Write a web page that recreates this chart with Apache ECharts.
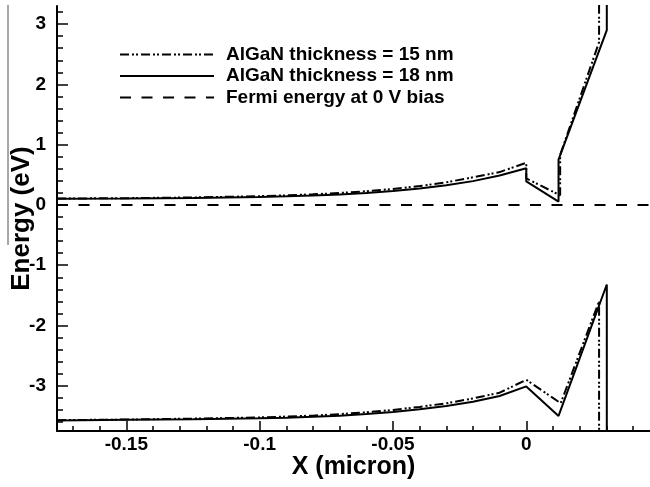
<!DOCTYPE html>
<html>
<head>
<meta charset="utf-8">
<script src="https://cdn.jsdelivr.net/npm/echarts@6/dist/echarts.min.js"></script>
<style>
html,body{margin:0;padding:0;background:#fff;}
#c{width:650px;height:487px;}
</style>
</head>
<body>
<div id="c"></div>
<script>
// ---- data ----
const xGaN = [-0.176, -0.15, -0.125, -0.1, -0.09, -0.08, -0.07, -0.06, -0.05, -0.04, -0.03, -0.02, -0.01, 0];

// AlGaN 18 nm (solid)
const x18CB = xGaN.concat([0, 0.0121, 0.0121, 0.0302, 0.0302]);
const e18CB = [0.104, 0.108, 0.117, 0.133, 0.144, 0.157, 0.175, 0.199, 0.230, 0.271, 0.325, 0.395, 0.488, 0.61,
               0.39, 0.055, 0.75, 2.90, 3.60];
const x18VB = xGaN.concat([0.0121, 0.0302, 0.0302]);
const e18VB = [-3.575, -3.565, -3.555, -3.54, -3.53, -3.515, -3.495, -3.47, -3.435, -3.39, -3.335, -3.265, -3.17, -3.01,
               -3.50, -1.32, -3.75];

// AlGaN 15 nm (dash-dot-dot)
const x15CB = xGaN.concat([0, 0.0127, 0.0127, 0.0273, 0.0273]);
const e15CB = [0.106, 0.112, 0.124, 0.145, 0.159, 0.176, 0.198, 0.227, 0.265, 0.313, 0.376, 0.458, 0.545, 0.70,
               0.44, 0.16, 0.83, 2.70, 3.60];
const x15VB = xGaN.concat([0.0129, 0.0273, 0.0273]);
const e15VB = [-3.57, -3.56, -3.545, -3.525, -3.51, -3.495, -3.47, -3.44, -3.40, -3.35, -3.29, -3.21, -3.115, -2.90,
               -3.29, -1.60, -3.75];

// Fermi level
const xFermi = [-0.176, 0.0464];
const eFermi = [0, 0];

const legendNames = ['AlGaN thickness = 15 nm', 'AlGaN thickness = 18 nm', 'Fermi energy at 0 V bias'];
const xMajor = [-0.15, -0.1, -0.05, 0];
const xMinor = [-0.17, -0.16, -0.14, -0.13, -0.12, -0.11, -0.09, -0.08, -0.07, -0.06, -0.04, -0.03, -0.02, -0.01, 0.01, 0.02, 0.03, 0.04];
const yMajor = [-3, -2, -1, 0, 1, 2, 3];
const yMinor = [-3.6, -3.4, -3.2, -2.8, -2.6, -2.4, -2.2, -1.8, -1.6, -1.4, -1.2, -0.8, -0.6, -0.4, -0.2,
                0.2, 0.4, 0.6, 0.8, 1.2, 1.4, 1.6, 1.8, 2.2, 2.4, 2.6, 2.8, 3.2];

const X_MIN = -0.176, X_MAX = 0.0464, Y_MIN = -3.75, Y_MAX = 3.30;

function pairs(xs, ys) { return xs.map((x, i) => [x, ys[i]]); }

const FONT = 'Liberation Sans, Arial, Helvetica, sans-serif';
const dashDot = [9, 3, 2, 2, 2, 3];

const chart = echarts.init(document.getElementById('c'), null, {renderer: 'canvas'});
chart.setOption({
  animation: false,
  backgroundColor: '#fff',
  grid: {left: 57, right: 0, top: 6, bottom: 56, containLabel: false, outerBoundsMode: 'none'},
  legend: {
    data: legendNames,
    orient: 'vertical',
    left: 119, top: 45,
    padding: 0,
    itemWidth: 94, itemHeight: 14,
    itemGap: 2.5,
    itemStyle: {opacity: 0},
    textStyle: {fontFamily: FONT, fontWeight: 'bold', fontSize: 19, color: '#000', lineHeight: 19, padding: [0, 0, 0, 7]}
  },
  xAxis: [{
    type: 'value', min: X_MIN, max: X_MAX, position: 'bottom',
    axisLine: {show: true, onZero: false, lineStyle: {color: '#000', width: 2}},
    axisTick: {show: true, inside: true, length: 10, customValues: xMajor, lineStyle: {color: '#000', width: 1.5}},
    axisLabel: {show: true, customValues: xMajor, margin: 4, fontFamily: FONT, fontWeight: 'bold', fontSize: 19, color: '#000',
      formatter: v => String(Math.round(v * 100) / 100)},
    splitLine: {show: false},
    name: 'X (micron)', nameLocation: 'middle', nameGap: 24, nameMoveOverlap: false,
    nameTextStyle: {fontFamily: FONT, fontWeight: 'bold', fontSize: 25, color: '#000'}
  }, {
    type: 'value', min: X_MIN, max: X_MAX, position: 'bottom',
    axisLine: {show: false, onZero: false},
    axisTick: {show: true, inside: true, length: 5, customValues: xMinor, lineStyle: {color: '#000', width: 1.5}},
    axisLabel: {show: false},
    splitLine: {show: false}
  }],
  yAxis: [{
    type: 'value', min: Y_MIN, max: Y_MAX, position: 'left',
    axisLine: {show: true, onZero: false, lineStyle: {color: '#000', width: 2}},
    axisTick: {show: true, inside: true, length: 11, customValues: yMajor, lineStyle: {color: '#000', width: 1.5}},
    axisLabel: {show: true, customValues: yMajor, margin: 11, fontFamily: FONT, fontWeight: 'bold', fontSize: 19, color: '#000'},
    splitLine: {show: false},
    name: 'Energy (eV)', nameLocation: 'middle', nameGap: 22, nameMoveOverlap: false,
    nameTextStyle: {fontFamily: FONT, fontWeight: 'bold', fontSize: 26, color: '#000'}
  }, {
    type: 'value', min: Y_MIN, max: Y_MAX, position: 'left',
    axisLine: {show: false, onZero: false},
    axisTick: {show: true, inside: true, length: 6, customValues: yMinor, lineStyle: {color: '#000', width: 1.5}},
    axisLabel: {show: false},
    splitLine: {show: false}
  }],
  graphic: [{
    type: 'line', shape: {x1: 8, y1: 5, x2: 8, y2: 245},
    style: {stroke: '#8a8a8a', lineWidth: 1.5}, silent: true
  }],
  series: [
    {name: legendNames[2], type: 'line', symbol: 'none', data: pairs(xFermi, eFermi),
     lineStyle: {color: '#000', width: 2, type: [11, 10.5]}, itemStyle: {color: '#000'}},
    {name: legendNames[1], type: 'line', symbol: 'none', data: pairs(x18CB, e18CB),
     lineStyle: {color: '#000', width: 2, type: 'solid'}, itemStyle: {color: '#000'}},
    {name: legendNames[1], type: 'line', symbol: 'none', data: pairs(x18VB, e18VB),
     lineStyle: {color: '#000', width: 2, type: 'solid'}, itemStyle: {color: '#000'}},
    {name: legendNames[0], type: 'line', symbol: 'none', data: pairs(x15CB, e15CB),
     lineStyle: {color: '#000', width: 2, type: dashDot}, itemStyle: {color: '#000'}},
    {name: legendNames[0], type: 'line', symbol: 'none', data: pairs(x15VB, e15VB),
     lineStyle: {color: '#000', width: 2, type: dashDot}, itemStyle: {color: '#000'}}
  ]
});
</script>
</body>
</html>
